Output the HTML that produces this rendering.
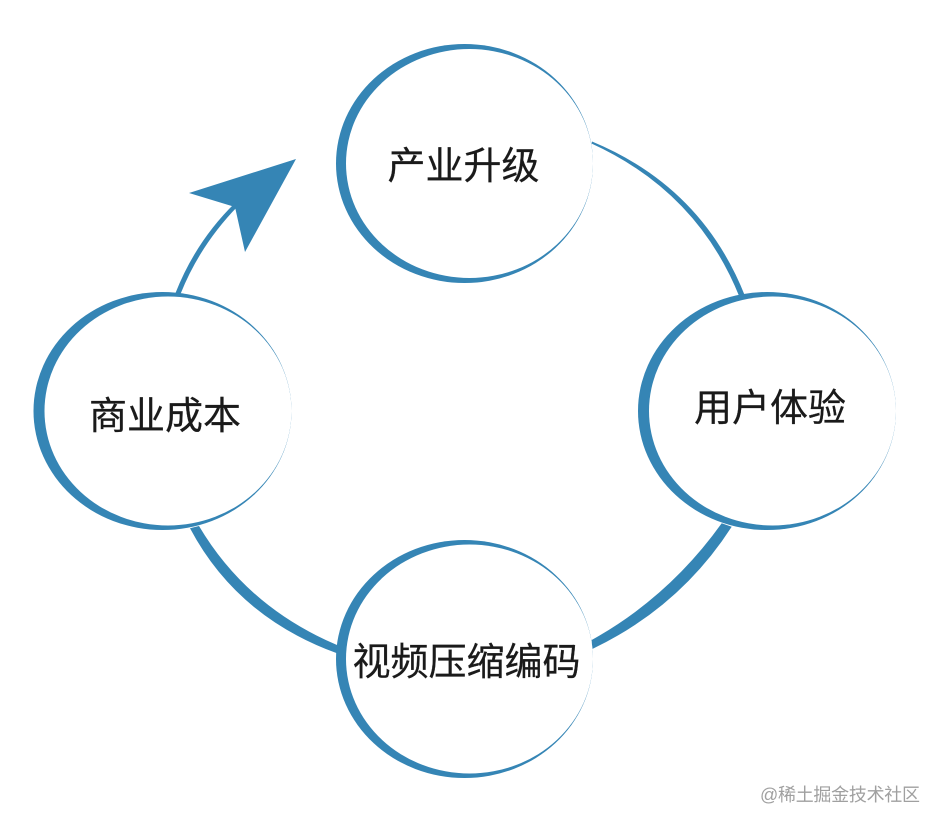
<!DOCTYPE html>
<html>
<head>
<meta charset="utf-8">
<style>
html,body{margin:0;padding:0;background:#fff;width:944px;height:828px;overflow:hidden}
svg{display:block}
text{font-family:"Liberation Sans","Noto Sans CJK SC",sans-serif}
.l{font-size:38px;fill:#1a1a1a;text-anchor:middle;stroke:#1a1a1a;stroke-width:.25}
</style>
</head>
<body>
<svg width="944" height="828" viewBox="0 0 944 828" xmlns="http://www.w3.org/2000/svg">
<rect width="944" height="828" fill="#fff"/>
<g fill="#3585b5">
<path d="M592 141.500Q702 187 745 296L739.500 297Q697.500 192 591.500 143.500Z"/>
<path d="M731.700 526.700Q680 607 592.300 649L591.700 640Q669 597 721.700 523.300Z"/>
<path d="M199 526Q247 607 337 645L337 653.300Q237 617 190 528.300Z"/>
<path d="M175.500 293Q196 241 235 203L238 206Q200 245 180.500 294Z"/>
<polygon points="296,159 189,193 235,207 245,252"/>
<ellipse cx="464.500" cy="163.500" rx="128.500" ry="119.500"/>
<ellipse cx="767" cy="411" rx="129" ry="119"/>
<ellipse cx="162.500" cy="411" rx="129" ry="119"/>
<ellipse cx="464.500" cy="659" rx="128.500" ry="119"/>
</g>
<g fill="#fff">
<ellipse cx="469.500" cy="163.500" rx="123.500" ry="114.500"/>
<ellipse cx="772.500" cy="411" rx="123.500" ry="114.500"/>
<ellipse cx="168" cy="411" rx="123.500" ry="114.500"/>
<ellipse cx="469.500" cy="659" rx="123.500" ry="114.500"/>
</g>
<text class="l" x="463.500" y="179">产业升级</text>
<text class="l" x="770" y="421">用户体验</text>
<text class="l" x="165" y="429">商业成本</text>
<text class="l" x="466.500" y="675" textLength="228" lengthAdjust="spacing">视频压缩编码</text>
<text x="760" y="801" font-size="18" fill="#a0a0a0" textLength="160" lengthAdjust="spacing">@稀土掘金技术社区</text>
</svg>
</body>
</html>
